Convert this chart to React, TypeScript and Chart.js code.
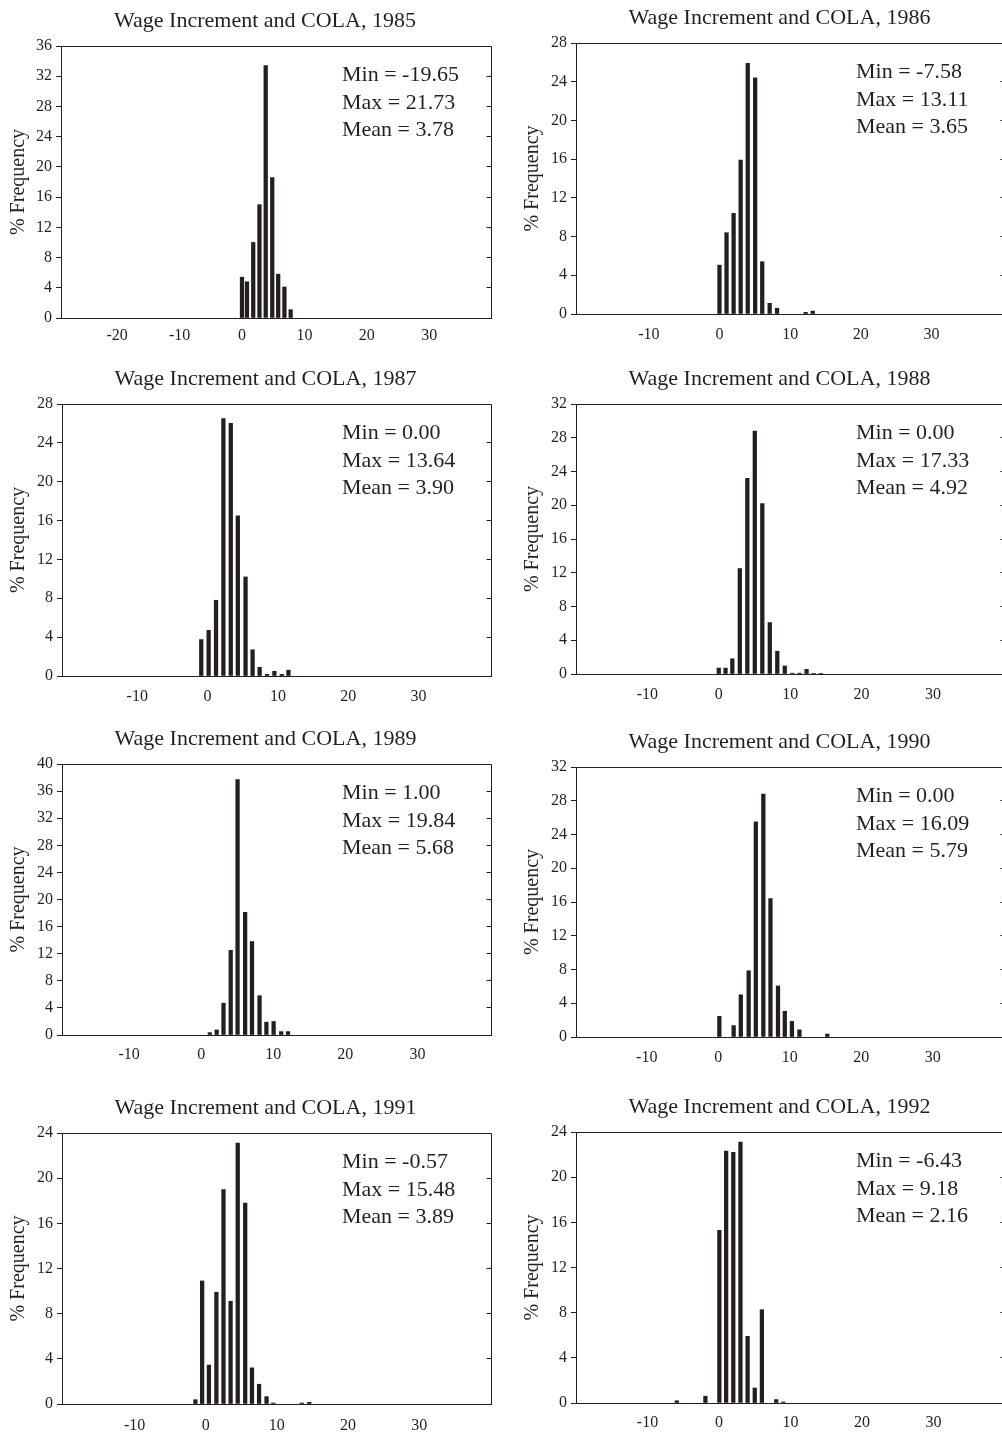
import React, { useEffect, useRef } from 'react';
import { Chart, registerables } from 'chart.js';

Chart.register(...registerables);

// ---------- data ----------
const YEARS = [1985, 1986, 1987, 1988, 1989, 1990, 1991, 1992];

const BINS_1985 = [0.0, 0.8, 1.8, 2.8, 3.8, 4.85, 5.8, 6.8, 7.8];
const FREQ_1985 = [5.4, 4.8, 10.0, 15.0, 33.4, 18.6, 5.8, 4.1, 1.1];

const BINS_1986 = [0.0, 1.0, 2.0, 3.0, 4.0, 5.05, 6.05, 7.1, 8.15, 12.2, 13.2];
const FREQ_1986 = [5.05, 8.4, 10.4, 15.9, 25.9, 24.4, 5.4, 1.1, 0.6, 0.17, 0.3];

const BINS_1987 = [-0.9, 0.15, 1.2, 2.25, 3.3, 4.3, 5.4, 6.4, 7.4, 8.45, 9.5, 10.55, 11.5];
const FREQ_1987 = [3.75, 4.7, 7.8, 26.5, 26.0, 16.5, 10.2, 2.7, 0.9, 0.17, 0.48, 0.17, 0.6];

const BINS_1988 = [0.0, 0.95, 1.9, 2.95, 4.0, 5.05, 6.1, 7.15, 8.2, 9.25, 10.3, 11.3, 12.3, 13.3, 14.3];
const FREQ_1988 = [0.7, 0.7, 1.8, 12.5, 23.2, 28.8, 20.2, 6.1, 2.7, 0.95, 0.1, 0.1, 0.55, 0.08, 0.08];

const BINS_1989 = [1.2, 2.15, 3.1, 4.1, 5.05, 6.1, 7.05, 8.1, 9.05, 10.05, 11.1, 12.05];
const FREQ_1989 = [0.35, 0.75, 4.7, 12.5, 37.7, 18.1, 13.8, 5.8, 1.9, 2.0, 0.5, 0.5];

const BINS_1990 = [0.15, 2.15, 3.15, 4.25, 5.25, 6.3, 7.3, 8.35, 9.3, 10.3, 11.35, 15.25];
const FREQ_1990 = [2.45, 1.35, 5.0, 7.85, 25.5, 28.8, 16.4, 6.05, 3.05, 1.85, 0.85, 0.35];

const BINS_1991 = [-1.45, -0.5, 0.45, 1.5, 2.5, 3.5, 4.5, 5.55, 6.5, 7.5, 8.55, 9.5, 13.5, 14.55];
const FREQ_1991 = [0.38, 10.9, 3.45, 9.9, 19.0, 9.1, 23.1, 17.8, 3.2, 1.75, 0.65, 0.09, 0.09, 0.15];

const BINS_1992 = [-5.9, -1.9, 0.05, 1.0, 2.0, 3.0, 4.0, 5.0, 6.0, 8.0, 9.0];
const FREQ_1992 = [0.2, 0.6, 15.3, 22.3, 22.2, 23.1, 5.9, 1.33, 8.26, 0.3, 0.09];

const MIN_VALUES = [-19.65, -7.58, 0.0, 0.0, 1.0, 0.0, -0.57, -6.43];
const MAX_VALUES = [21.73, 13.11, 13.64, 17.33, 19.84, 16.09, 15.48, 9.18];
const MEAN_VALUES = [3.78, 3.65, 3.9, 4.92, 5.68, 5.79, 3.89, 2.16];

const X_TICKS_WIDE = [-20, -10, 0, 10, 20, 30];
const X_TICKS = [-10, 0, 10, 20, 30];
const X_MIN = [-29, -20.3, -20.7, -20.0, -19.3, -19.9, -20.2, -20.0];
const X_MAX = [39.9, 40.4, 40.3, 40.1, 40.2, 40.1, 40.1, 40.0];
const Y_MAX = [36, 28, 28, 32, 40, 32, 24, 24];

const BINS = [BINS_1985, BINS_1986, BINS_1987, BINS_1988, BINS_1989, BINS_1990, BINS_1991, BINS_1992];
const FREQS = [FREQ_1985, FREQ_1986, FREQ_1987, FREQ_1988, FREQ_1989, FREQ_1990, FREQ_1991, FREQ_1992];

// ---------- layout (page pixels) ----------
const LAYOUT = [
  { left: 0, top: 46, bottom: 318, axisW: 61, labelPad: 8 },
  { left: 514, top: 43, bottom: 314, axisW: 62, labelPad: 11 },
  { left: 0, top: 404, bottom: 676, axisW: 62, labelPad: 11 },
  { left: 514, top: 404, bottom: 674, axisW: 62, labelPad: 11 },
  { left: 0, top: 764, bottom: 1035, axisW: 62, labelPad: 10 },
  { left: 514, top: 767, bottom: 1037, axisW: 62, labelPad: 11 },
  { left: 0, top: 1133, bottom: 1404, axisW: 62, labelPad: 12 },
  { left: 514, top: 1132, bottom: 1403, axisW: 62, labelPad: 10 },
];

const INK = '#231f20';
const SERIF = '"Liberation Serif", "Times New Roman", serif';
const PAD_TOP = 46;
const PAD_BOTTOM = 30;
const CANVAS_W = 500;

const align = (p: number) => Math.round(p - 0.5) + 0.5;

const framePlugin = {
  id: 'frame',
  afterDraw(chart: any, _args: any, opts: any) {
    const { ctx, chartArea } = chart;
    const { left, right, top, bottom } = chartArea;
    const y = chart.scales.y;
    ctx.save();
    ctx.strokeStyle = INK;
    ctx.lineWidth = 1;
    ctx.beginPath();
    ctx.moveTo(align(left), align(top));
    ctx.lineTo(align(right), align(top));
    ctx.lineTo(align(right), align(bottom));
    for (const t of y.ticks) {
      if (t.value <= 0 || t.value >= y.max) continue;
      const py = align(y.getPixelForValue(t.value));
      ctx.moveTo(align(right) - 5, py);
      ctx.lineTo(align(right), py);
    }
    ctx.stroke();

    ctx.fillStyle = INK;
    ctx.font = `22px ${SERIF}`;
    ctx.textAlign = 'center';
    ctx.textBaseline = 'middle';
    ctx.fillText(opts.title, (left + right) / 2 - 11, top - 24.5);

    ctx.textAlign = 'left';
    opts.lines.forEach((line: string, i: number) => {
      ctx.fillText(line, right - 149, top + 29.7 + i * 27.5);
    });
    ctx.restore();
  },
};

function Panel({ index }: { index: number }) {
  const ref = useRef<HTMLCanvasElement>(null);
  const lay = LAYOUT[index];
  const h = lay.bottom - lay.top + PAD_TOP + PAD_BOTTOM;

  useEffect(() => {
    if (!ref.current) return;
    const ticks = index === 0 ? X_TICKS_WIDE : X_TICKS;
    const bins = BINS[index];
    const freq = FREQS[index];
    const chart = new Chart(ref.current, {
      type: 'bar',
      data: {
        datasets: [
          {
            data: bins.map((x, i) => ({ x, y: freq[i] })),
            backgroundColor: INK,
            borderWidth: 0,
            barThickness: 3.6,
          } as any,
        ],
      },
      options: {
        responsive: false,
        animation: false,
        events: [],
        layout: { padding: { top: PAD_TOP, right: 9, left: 0, bottom: 0 } },
        plugins: {
          legend: { display: false },
          tooltip: { enabled: false },
          title: { display: false },
          frame: {
            title: `Wage Increment and COLA, ${YEARS[index]}`,
            lines: [
              `Min = ${MIN_VALUES[index].toFixed(2)}`,
              `Max = ${MAX_VALUES[index].toFixed(2)}`,
              `Mean = ${MEAN_VALUES[index].toFixed(2)}`,
            ],
          },
        } as any,
        scales: {
          x: {
            type: 'linear',
            offset: false,
            min: X_MIN[index],
            max: X_MAX[index],
            afterBuildTicks: (s: any) => {
              s.ticks = ticks.map((v) => ({ value: v }));
            },
            afterFit: (s: any) => {
              s.height = PAD_BOTTOM;
            },
            grid: { display: false, drawTicks: false, offset: false },
            border: { display: true, color: INK, width: 1 },
            ticks: {
              font: { family: SERIF, size: 16 },
              color: INK,
              padding: lay.labelPad,
              maxRotation: 0,
              autoSkip: false,
            },
          },
          y: {
            type: 'linear',
            min: 0,
            max: Y_MAX[index],
            afterFit: (s: any) => {
              s.width = lay.axisW;
            },
            ticks: {
              stepSize: 4,
              font: { family: SERIF, size: 16 },
              color: INK,
              padding: 4,
            },
            grid: {
              display: true,
              drawOnChartArea: false,
              drawTicks: true,
              tickLength: 5,
              color: INK,
              lineWidth: 1,
            },
            border: { display: true, color: INK, width: 1 },
            title: {
              display: true,
              text: '% Frequency',
              font: { family: SERIF, size: 20 },
              color: INK,
              padding: { top: 7, bottom: 0 },
            },
          },
        },
      } as any,
      plugins: [framePlugin as any],
    });
    return () => chart.destroy();
  }, [index]);

  return (
    <canvas
      ref={ref}
      width={CANVAS_W}
      height={h}
      style={{
        position: 'absolute',
        left: lay.left,
        top: lay.top - PAD_TOP,
        width: CANVAS_W,
        height: h,
      }}
    />
  );
}

export default function App() {
  return (
    <div
      style={{
        position: 'absolute',
        left: 0,
        top: 0,
        width: 1002,
        height: 1434,
        overflow: 'hidden',
        background: '#ffffff',
      }}
    >
      {YEARS.map((_, i) => (
        <Panel key={i} index={i} />
      ))}
    </div>
  );
}
